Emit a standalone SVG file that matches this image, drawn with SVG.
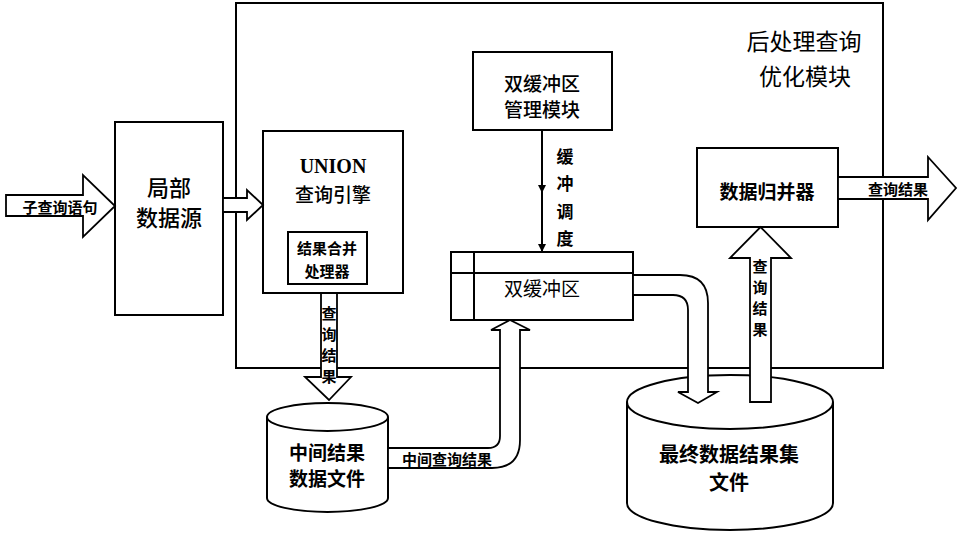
<svg xmlns="http://www.w3.org/2000/svg" width="958" height="537" viewBox="0 0 958 537">
<style>
.box{fill:#fff;stroke:#000;stroke-width:2}
.arr{fill:#fff;stroke:#000;stroke-width:1.8;stroke-linejoin:miter}
.t{font-family:"Noto Sans CJK SC","Noto Sans CJK JP",sans-serif;font-weight:bold;fill:#000;text-anchor:middle;dominant-baseline:central}
.n{font-weight:normal}
.m{font-weight:500}
.s{font-family:"Liberation Serif",serif;font-weight:bold;fill:#000;text-anchor:middle;dominant-baseline:central}
</style>
<defs>
<marker id="ah" viewBox="0 0 10 10" refX="10" refY="5" markerWidth="8" markerHeight="14" markerUnits="userSpaceOnUse" orient="auto">
<path d="M0,0 L10,5 L0,10 Z" fill="#000"/>
</marker>
</defs>
<rect width="958" height="537" fill="#fff"/>
<g id="container">
<rect class="box" x="236" y="3" width="647" height="365"/>
<text class="t n" x="804" y="40" font-size="23">后处理查询</text>
<text class="t n" x="805" y="75" font-size="23">优化模块</text>
</g>
<g id="local-source">
<rect class="box" x="115" y="122" width="108" height="193"/>
<text class="t m" x="169" y="186" font-size="22">局部</text>
<text class="t m" x="169" y="216" font-size="22">数据源</text>
</g>
<g id="union-engine">
<rect class="box" x="263" y="131" width="140" height="162"/>
<text class="s" x="333" y="166" font-size="20">UNION</text>
<text class="t m" x="333" y="193" font-size="19">查询引擎</text>
<rect class="box" x="288" y="232" width="79" height="52"/>
<text class="t" x="327" y="247" font-size="15">结果合并</text>
<text class="t" x="327" y="270" font-size="15">处理器</text>
</g>
<g id="buffer-manager">
<rect class="box" x="473" y="52" width="139" height="78"/>
<text class="t m" x="542" y="82" font-size="19">双缓冲区</text>
<text class="t m" x="542" y="108" font-size="19">管理模块</text>
</g>
<g id="double-buffer">
<rect class="box" x="451" y="252" width="182" height="68"/>
<line x1="451" y1="273" x2="633" y2="273" stroke="#000" stroke-width="2"/>
<line x1="474" y1="252" x2="474" y2="320" stroke="#000" stroke-width="2"/>
<text class="t n" x="542" y="287" font-size="19">双缓冲区</text>
</g>
<g id="merger">
<rect class="box" x="697" y="148" width="141" height="79"/>
<text class="t" x="767" y="190" font-size="19">数据归并器</text>
</g>
<g id="mid-file">
<path class="box" d="M267,417 A60.5,14 0 0 1 388,417 V498 A60.5,14 0 0 1 267,498 Z"/>
<path d="M267,417 A60.5,14 0 0 0 388,417" fill="none" stroke="#000" stroke-width="2"/>
<text class="t" x="327" y="451" font-size="19">中间结果</text>
<text class="t" x="327" y="477" font-size="19">数据文件</text>
</g>
<g id="final-file">
<path class="box" d="M627,402 A103,27 0 0 1 833,402 V503 A103,27 0 0 1 627,503 Z"/>
<path d="M627,402 A103,27 0 0 0 833,402" fill="none" stroke="#000" stroke-width="2"/>
<text class="t" x="729" y="453" font-size="20">最终数据结果集</text>
<text class="t" x="729" y="481" font-size="20">文件</text>
</g>
<g id="connectors">
<polygon class="arr" points="6,195 83,195 83,175 115,206 83,237 83,216 6,216"/>
<text class="t" x="60" y="206" font-size="15">子查询语句</text>
<polygon class="arr" points="223,198 247,198 247,190 263,205 247,220 247,212 223,212"/>
<polygon class="arr" points="321,293 337,293 337,377 351,377 329,400 305,377 321,377"/>
<text class="t" x="329" y="312" font-size="15">查</text>
<text class="t" x="329" y="333" font-size="15">询</text>
<text class="t" x="329" y="354" font-size="15">结</text>
<text class="t" x="329" y="375" font-size="15">果</text>
<path class="arr" d="M388,468 H492 Q520,468 520,440 V330 H530 L510,320 L491,330 H500 V436 Q500,448 488,448 H388 Z"/>
<text class="t" x="447" y="458" font-size="15">中间查询结果</text>
<line x1="542" y1="130" x2="542" y2="193" stroke="#000" stroke-width="2" marker-end="url(#ah)"/>
<line x1="542" y1="193" x2="542" y2="252" stroke="#000" stroke-width="2" marker-end="url(#ah)"/>
<text class="t" x="565" y="155" font-size="17">缓</text>
<text class="t" x="565" y="182" font-size="17">冲</text>
<text class="t" x="565" y="210" font-size="17">调</text>
<text class="t" x="565" y="237" font-size="17">度</text>
<path class="arr" d="M633,275 H680 Q708,275 708,303 V392 H717 L698,403 L678,392 H688 V310 Q688,295 673,295 H633 Z"/>
<polygon class="arr" points="750,402 750,258 730,258 760.5,227 791,258 771,258 771,402"/>
<text class="t" x="760" y="265" font-size="15">查</text>
<text class="t" x="760" y="286" font-size="15">询</text>
<text class="t" x="760" y="307" font-size="15">结</text>
<text class="t" x="760" y="328" font-size="15">果</text>
<polygon class="arr" points="838,177 928,177 928,157 956,188 928,220 928,199 838,199"/>
<text class="t" x="898" y="188" font-size="15">查询结果</text>
</g>
</svg>
